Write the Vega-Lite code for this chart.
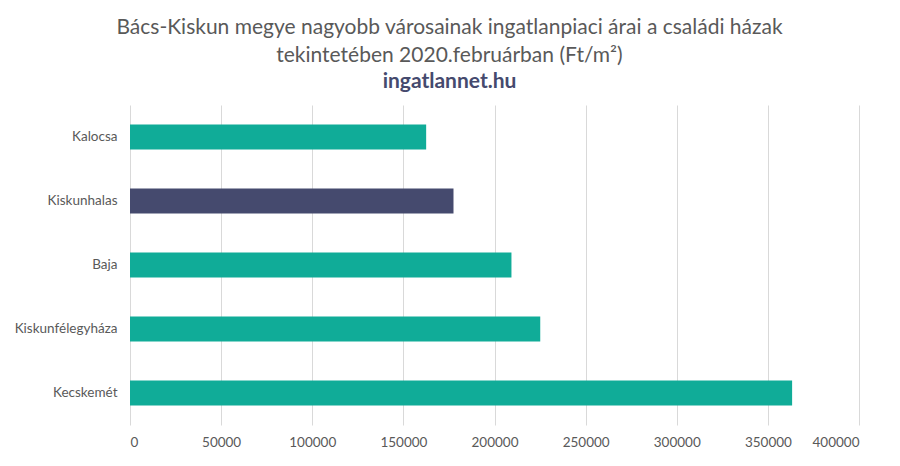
{
  "$schema": "https://vega.github.io/schema/vega-lite/v6.json",
  "width": 729,
  "height": 320,
  "padding": {"left": 8, "right": 41, "top": 17, "bottom": 10},
  "background": "white",
  "title": {
    "text": ["Bács-Kiskun megye nagyobb városainak ingatlanpiaci árai a családi házak", "tekintetében 2020.februárban (Ft/m²)"],
    "subtitle": "ingatlannet.hu",
    "anchor": "middle",
    "frame": "bounds",
    "dx": 16,
    "font": "Lato",
    "fontSize": 21,
    "fontWeight": "normal",
    "color": "#595959",
    "lineHeight": 28,
    "subtitleFont": "Lato",
    "subtitleFontSize": 21,
    "subtitleFontWeight": "bold",
    "subtitleColor": "#454A6E",
    "subtitlePadding": 5,
    "offset": 13
  },
  "data": {
    "values": [
      {"varos": "Kalocsa", "ar": 162500, "kiemelt": "nem"},
      {"varos": "Kiskunhalas", "ar": 177500, "kiemelt": "igen"},
      {"varos": "Baja", "ar": 209300, "kiemelt": "nem"},
      {"varos": "Kiskunfélegyháza", "ar": 225100, "kiemelt": "nem"},
      {"varos": "Kecskemét", "ar": 363300, "kiemelt": "nem"}
    ]
  },
  "mark": {"type": "bar"},
  "encoding": {
    "y": {
      "field": "varos",
      "type": "nominal",
      "sort": null,
      "title": null,
      "scale": {"paddingInner": 0.61, "paddingOuter": 0.305},
      "axis": {
        "domain": false,
        "ticks": false,
        "labelFont": "Lato",
        "labelFontSize": 13.5,
        "labelColor": "#595959",
        "labelPadding": 13,
        "minExtent": 122,
        "maxExtent": 122
      }
    },
    "x": {
      "field": "ar",
      "type": "quantitative",
      "title": null,
      "scale": {"domain": [0, 400000], "nice": false},
      "axis": {
        "values": [0, 50000, 100000, 150000, 200000, 250000, 300000, 350000, 400000],
        "format": "d",
        "domain": false,
        "ticks": false,
        "grid": true,
        "gridColor": "#D9D9D9",
        "labelFont": "Lato",
        "labelFontSize": 13.5,
        "labelColor": "#595959",
        "labelPadding": 10
      }
    },
    "color": {
      "field": "kiemelt",
      "type": "nominal",
      "scale": {"domain": ["nem", "igen"], "range": ["#10AC98", "#454A6E"]},
      "legend": null
    }
  },
  "config": {
    "view": {"stroke": null}
  }
}
